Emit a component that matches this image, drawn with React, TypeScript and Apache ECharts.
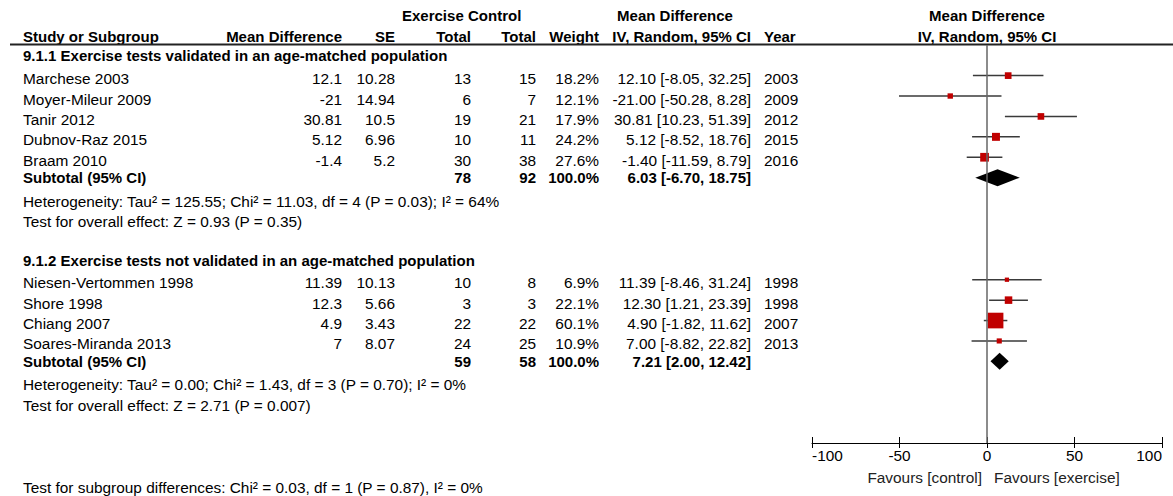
import React, { useEffect, useRef } from "react";
import * as echarts from "echarts";

// ---------- data ----------
const studies1 = ["Marchese 2003", "Moyer-Mileur 2009", "Tanir 2012", "Dubnov-Raz 2015", "Braam 2010"];
const md1 = [12.1, -21, 30.81, 5.12, -1.4];
const se1 = [10.28, 14.94, 10.5, 6.96, 5.2];
const exTotal1 = [13, 6, 19, 10, 30];
const ctTotal1 = [15, 7, 21, 11, 38];
const weight1 = [18.2, 12.1, 17.9, 24.2, 27.6];
const lo1 = [-8.05, -50.28, 10.23, -8.52, -11.59];
const hi1 = [32.25, 8.28, 51.39, 18.76, 8.79];
const year1 = [2003, 2009, 2012, 2015, 2016];
const subtotal1 = { ex: 78, ct: 92, md: 6.03, lo: -6.7, hi: 18.75 };
const het1 = "Heterogeneity: Tau\u00b2 = 125.55; Chi\u00b2 = 11.03, df = 4 (P = 0.03); I\u00b2 = 64%";
const test1 = "Test for overall effect: Z = 0.93 (P = 0.35)";

const studies2 = ["Niesen-Vertommen 1998", "Shore 1998", "Chiang 2007", "Soares-Miranda 2013"];
const md2 = [11.39, 12.3, 4.9, 7];
const se2 = [10.13, 5.66, 3.43, 8.07];
const exTotal2 = [10, 3, 22, 24];
const ctTotal2 = [8, 3, 22, 25];
const weight2 = [6.9, 22.1, 60.1, 10.9];
const lo2 = [-8.46, 1.21, -1.82, -8.82];
const hi2 = [31.24, 23.39, 11.62, 22.82];
const year2 = [1998, 1998, 2007, 2013];
const subtotal2 = { ex: 59, ct: 58, md: 7.21, lo: 2.0, hi: 12.42 };
const het2 = "Heterogeneity: Tau\u00b2 = 0.00; Chi\u00b2 = 1.43, df = 3 (P = 0.70); I\u00b2 = 0%";
const test2 = "Test for overall effect: Z = 2.71 (P = 0.007)";

const group1Title = "9.1.1 Exercise tests validated in an age-matched population";
const group2Title = "9.1.2 Exercise tests not validated in an age-matched population";
const subgroupTest = "Test for subgroup differences: Chi\u00b2 = 0.03, df = 1 (P = 0.87), I\u00b2 = 0%";
const xTicks = { min: -100, max: 100, interval: 50 };
const favoursLeft = "Favours [control]";
const favoursRight = "Favours [exercise]";

// row indices
const rows1 = [2, 3, 4, 5, 6];
const subRow1 = 7;
const rows2 = [12, 13, 14, 15];
const subRow2 = 16;

// ---------- layout ----------
const W = 1173;
const H = 496;
const GRID_LEFT = 812;
const GRID_W = 350;
const GRID_TOP = 45;
const GRID_H = 398;
const ROW_MIN = 0.5;
const ROW_MAX = 20;
const rowY = (r: number) => GRID_TOP + ((r - ROW_MIN) * GRID_H) / (ROW_MAX - ROW_MIN);
const TXT_OFF = 3;
const FONT = '"Liberation Sans", Arial, Helvetica, sans-serif';
const FS = 15.4;
const FS_B = 15;

const txt = (text: string, x: number, y: number, align = "left", bold = false, color = "#000") => ({
  type: "text",
  x,
  y,
  silent: true,
  style: {
    text,
    fill: color,
    fontSize: bold ? FS_B : FS,
    fontFamily: FONT,
    fontWeight: bold ? "bold" : "normal",
    align,
    textAlign: align,
    verticalAlign: "middle",
    textVerticalAlign: "middle",
  },
});

const fmtCI = (m: number, l: number, h: number) => `${m.toFixed(2)} [${l.toFixed(2)}, ${h.toFixed(2)}]`;

const COL = {
  name: 23,
  md: 342,
  se: 395,
  ex: 471,
  ct: 536,
  wt: 599,
  ci: 751,
  year: 764,
};

function buildTexts() {
  const els: any[] = [];
  const hTop = 15;
  const hBot = 36;
  els.push(txt("Exercise", 402, hTop, "left", true));
  els.push(txt("Control", 468, hTop, "left", true));
  els.push(txt("Mean Difference", 675, hTop, "center", true));
  els.push(txt("Mean Difference", 987, hTop, "center", true));
  els.push(txt("Study or Subgroup", COL.name, hBot, "left", true));
  els.push(txt("Mean Difference", COL.md, hBot, "right", true));
  els.push(txt("SE", COL.se, hBot, "right", true));
  els.push(txt("Total", COL.ex, hBot, "right", true));
  els.push(txt("Total", COL.ct, hBot, "right", true));
  els.push(txt("Weight", COL.wt, hBot, "right", true));
  els.push(txt("IV, Random, 95% CI", COL.ci, hBot, "right", true));
  els.push(txt("Year", COL.year, hBot, "left", true));
  els.push(txt("IV, Random, 95% CI", 987, hBot, "center", true));

  const group = (
    title: string,
    titleY: number,
    names: string[],
    md: number[],
    se: number[],
    ex: number[],
    ct: number[],
    wt: number[],
    lo: number[],
    hi: number[],
    yr: number[],
    rows: number[],
    sub: any,
    subRow: number,
    het: string,
    test: string
  ) => {
    els.push(txt(title, COL.name, titleY, "left", true));
    names.forEach((n, i) => {
      const y = rowY(rows[i]) + TXT_OFF;
      els.push(txt(n, COL.name, y));
      els.push(txt(String(md[i]), COL.md, y, "right"));
      els.push(txt(String(se[i]), COL.se, y, "right"));
      els.push(txt(String(ex[i]), COL.ex, y, "right"));
      els.push(txt(String(ct[i]), COL.ct, y, "right"));
      els.push(txt(wt[i].toFixed(1) + "%", COL.wt, y, "right"));
      els.push(txt(fmtCI(md[i], lo[i], hi[i]), COL.ci, y, "right"));
      els.push(txt(String(yr[i]), COL.year, y, "left"));
    });
    const sy = rowY(subRow);
    els.push(txt("Subtotal (95% CI)", COL.name, sy, "left", true));
    els.push(txt(String(sub.ex), COL.ex, sy, "right", true));
    els.push(txt(String(sub.ct), COL.ct, sy, "right", true));
    els.push(txt("100.0%", COL.wt, sy, "right", true));
    els.push(txt(fmtCI(sub.md, sub.lo, sub.hi), COL.ci, sy, "right", true));
    els.push(txt(het, COL.name, rowY(subRow + 1) + TXT_OFF));
    els.push(txt(test, COL.name, rowY(subRow + 2) + TXT_OFF));
  };

  group(group1Title, 55, studies1, md1, se1, exTotal1, ctTotal1, weight1, lo1, hi1, year1, rows1, subtotal1, subRow1, het1, test1);
  group(group2Title, 260, studies2, md2, se2, exTotal2, ctTotal2, weight2, lo2, hi2, year2, rows2, subtotal2, subRow2, het2, test2);

  els.push(txt(favoursLeft, 982, 477, "right", false, "#222"));
  els.push(txt(favoursRight, 994, 477, "left", false, "#222"));
  els.push(txt(subgroupTest, COL.name, 487));

  els.push({
    type: "line",
    silent: true,
    shape: { x1: 10, y1: 44.5, x2: W, y2: 44.5 },
    style: { stroke: "#222", lineWidth: 2 },
  });
  return els;
}

export default function App() {
  const ref = useRef<HTMLDivElement>(null);
  useEffect(() => {
    document.body.style.margin = "0";
    if (!ref.current) return;
    const chart = echarts.init(ref.current, undefined, { renderer: "svg" });

    const studyData = [
      ...md1.map((m, i) => [m, rows1[i], lo1[i], hi1[i], weight1[i]]),
      ...md2.map((m, i) => [m, rows2[i], lo2[i], hi2[i], weight2[i]]),
    ];
    const diamondData = [
      [subtotal1.md, subRow1, subtotal1.lo, subtotal1.hi],
      [subtotal2.md, subRow2, subtotal2.lo, subtotal2.hi],
    ];

    const axisCommon = {
      type: "value",
      min: xTicks.min,
      max: xTicks.max,
      interval: xTicks.interval,
      splitLine: { show: false },
      gridIndex: 0,
      position: "bottom",
    };

    chart.setOption({
      animation: false,
      grid: { left: GRID_LEFT, width: GRID_W, top: GRID_TOP, height: GRID_H, containLabel: false },
      xAxis: [
        {
          ...axisCommon,
          axisLine: { show: true, lineStyle: { color: "#000", width: 1 } },
          axisTick: { show: true, inside: false, length: 5, lineStyle: { color: "#000", width: 1 } },
          axisLabel: {
            show: true,
            color: "#000",
            fontSize: FS,
            fontFamily: FONT,
            margin: 5,
            alignMinLabel: "left",
            alignMaxLabel: "right",
          },
        },
        {
          ...axisCommon,
          axisLine: { show: false },
          axisTick: { show: true, inside: true, length: 6, lineStyle: { color: "#000", width: 1 } },
          axisLabel: { show: false },
        },
      ],
      yAxis: { type: "value", min: ROW_MIN, max: ROW_MAX, inverse: true, show: false },
      series: [
        {
          type: "custom",
          xAxisIndex: 0,
          yAxisIndex: 0,
          data: studyData,
          encode: { x: [0, 2, 3], y: 1 },
          renderItem: (params: any, api: any) => {
            const m = api.value(0);
            const r = api.value(1);
            const l = api.value(2);
            const h = api.value(3);
            const w = api.value(4);
            const p = api.coord([m, r]);
            const a = api.coord([l, r]);
            const b = api.coord([h, r]);
            const s = 2.8 + 0.214 * w;
            return {
              type: "group",
              children: [
                {
                  type: "line",
                  shape: { x1: a[0], y1: a[1], x2: b[0], y2: b[1] },
                  style: { stroke: "#3a3a3a", lineWidth: 1.5 },
                },
                {
                  type: "rect",
                  shape: { x: p[0] - s / 2, y: p[1] - s / 2, width: s, height: s },
                  style: { fill: "#c00000" },
                },
              ],
            };
          },
          markLine: {
            silent: true,
            symbol: ["none", "none"],
            label: { show: false },
            lineStyle: { color: "#666", width: 1.5, type: "solid" },
            data: [{ xAxis: 0 }],
          },
          z: 3,
        },
        {
          type: "custom",
          xAxisIndex: 0,
          yAxisIndex: 0,
          data: diamondData,
          encode: { x: [0, 2, 3], y: 1 },
          renderItem: (params: any, api: any) => {
            const m = api.value(0);
            const r = api.value(1);
            const l = api.value(2);
            const h = api.value(3);
            const p = api.coord([m, r]);
            const a = api.coord([l, r]);
            const b = api.coord([h, r]);
            const hh = 8.5;
            return {
              type: "polygon",
              shape: {
                points: [
                  [a[0], p[1]],
                  [p[0], p[1] - hh],
                  [b[0], p[1]],
                  [p[0], p[1] + hh],
                ],
              },
              style: { fill: "#000" },
            };
          },
          z: 4,
        },
      ],
      graphic: buildTexts(),
    });
    return () => chart.dispose();
  }, []);
  return <div ref={ref} style={{ width: W, height: H, position: "absolute", left: 0, top: 0 }} />;
}
